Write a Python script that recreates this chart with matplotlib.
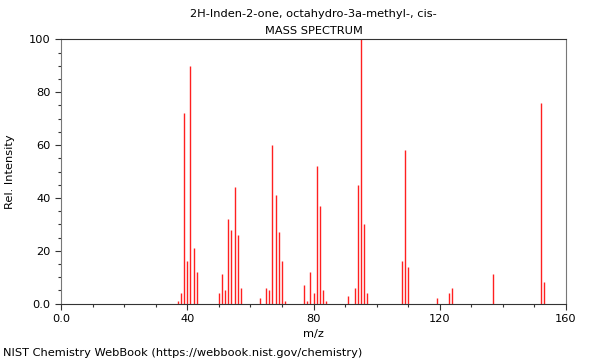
import matplotlib
matplotlib.use("Agg")
import matplotlib.pyplot as plt
from matplotlib.ticker import MultipleLocator, FixedLocator

# peaks
mz = [37, 38, 39, 40, 41, 42, 43,
      50, 51, 52, 53, 54, 55, 56, 57,
      63, 65, 66, 67, 68, 69, 70, 71,
      77, 78, 79, 80, 81, 82, 83, 84,
      91, 93, 94, 95, 96, 97,
      108, 109, 110,
      119, 123, 124, 137, 152, 153]
intensity = [1, 4, 72, 16, 90, 21, 12,
             4, 11, 5, 32, 28, 44, 26, 6,
             2, 6, 5, 60, 41, 27, 16, 1,
             7, 1, 12, 4, 52, 37, 5, 1,
             3, 6, 45, 100, 30, 4,
             16, 58, 14,
             2, 4, 6, 11, 76, 8]

x_ticks = [0, 40, 80, 120, 160]
x_labels = ["0.0", "40", "80", "120", "160"]
y_ticks = [0, 20, 40, 60, 80, 100]
y_labels = ["0.0", "20", "40", "60", "80", "100"]

plt.rcParams["font.family"] = "DejaVu Sans"
plt.rcParams["font.size"] = 8.2

fig = plt.figure(figsize=(6, 3.6), dpi=100)
ax = fig.add_axes([0.1017, 0.1569, 0.8416, 0.7334])

ax.vlines(mz, 0, intensity, colors="#ff2020", linewidths=1.0)

ax.set_xlim(0, 160)
ax.set_ylim(0, 100)
ax.xaxis.set_major_locator(FixedLocator(x_ticks))
ax.set_xticklabels(x_labels)
ax.xaxis.set_minor_locator(MultipleLocator(10))
ax.yaxis.set_major_locator(FixedLocator(y_ticks))
ax.set_yticklabels(y_labels)
ax.yaxis.set_minor_locator(MultipleLocator(5))
ax.tick_params(which="major", length=4, width=0.8, color="#333333", labelsize=8.2)
ax.tick_params(which="minor", length=2.5, width=0.8, color="#333333")

for side in ["left", "right"]:
    ax.spines[side].set_color("#777777")
for side in ["top", "bottom"]:
    ax.spines[side].set_color("#333333")

ax.set_xlabel("m/z", labelpad=4)
ax.set_ylabel("Rel. Intensity", labelpad=10)

cx = 0.1017 + 0.8416 / 2
fig.text(cx, 0.962, "2H-Inden-2-one, octahydro-3a-methyl-, cis-", ha="center", va="center")
fig.text(cx, 0.915, "MASS SPECTRUM", ha="center", va="center")
fig.text(0.005, 0.02, "NIST Chemistry WebBook (https://webbook.nist.gov/chemistry)", ha="left", va="center")

fig.savefig("out.png", dpi=100)
